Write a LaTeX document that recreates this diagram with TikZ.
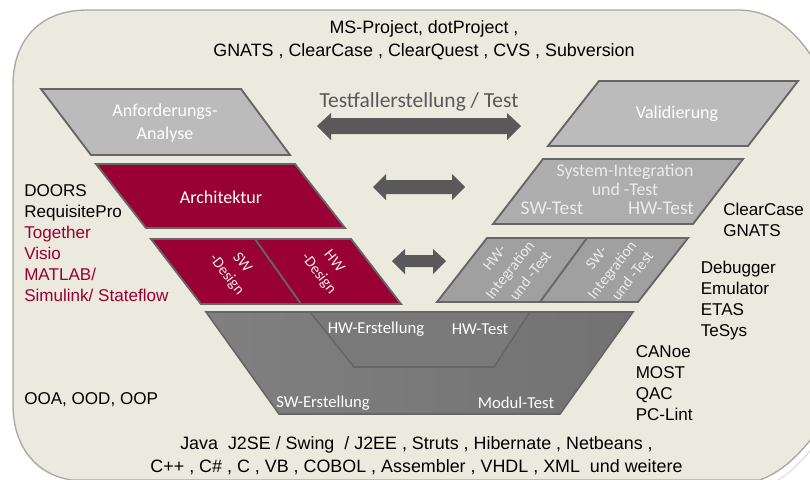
\documentclass[tikz,border=0pt]{standalone}
\usepackage{fontspec}
\setmainfont{Liberation Sans}
\newfontfamily\carl{Carlito}
\definecolor{panel}{HTML}{ECE9DF}
\definecolor{panelline}{HTML}{A8A8A4}
\definecolor{wine}{HTML}{990033}
\definecolor{lgray}{HTML}{BBBBBB}
\definecolor{mgray}{HTML}{ADADAD}
\definecolor{igray}{HTML}{A0A0A0}
\definecolor{bgray}{HTML}{808080}
\definecolor{bgrayr}{HTML}{727272}
\definecolor{edge}{HTML}{666666}
\definecolor{arrowgray}{HTML}{595959}
\tikzset{
  x=0.75pt,y=-0.75pt,
  para/.style={draw=edge,line width=1.4pt,line join=miter},
  blk/.style={anchor=north west,align=left,inner sep=0pt,font=\fontsize{12.8}{15.75}\selectfont,text=black},
  ctr/.style={align=center,inner sep=0pt,font=\fontsize{13.42}{17.3}\selectfont,text=black},
  wht/.style={align=center,inner sep=0pt,text=white,font=\carl\fontsize{13.5}{17}\selectfont},
  wbase/.style={align=center,inner sep=0pt,text=white,font=\carl\fontsize{12.5}{15}\selectfont},
  wsys/.style={align=center,inner sep=0pt,text=white!92!black,font=\carl\fontsize{13.4}{14.6}\selectfont},
  wtest/.style={align=center,inner sep=0pt,text=white!92!black,font=\carl\fontsize{14.6}{15}\selectfont},
  wrot/.style={align=center,inner sep=0pt,text=white!92!black,font=\carl\fontsize{11.6}{14.8}\selectfont},
  dbl/.style={fill=arrowgray,draw=none},
}
\begin{document}
\begin{tikzpicture}
\useasboundingbox (0,0) rectangle (810,479);
\fill[white] (0,0) rectangle (810,479);
% faint outer trace of the panel corner
\draw[black!10,line width=1.2pt] (775,482) .. controls (795,470) and (808,455) .. (830,425);
% panel
\draw[draw=panelline,line width=1pt,fill=panel]
  (830,90) .. controls (805,35) and (775,10) .. (738,10) -- (87,10)
  .. controls (40,10) and (13,40) .. (13,85) -- (13,405)
  .. controls (13,445) and (35,475) .. (72,480) -- (760,480)
  .. controls (785,470) and (800,455) .. (830,415) -- cycle;
% left side
\path[para,fill=lgray] (41,89) -- (241,89) -- (290,155) -- (91,155) -- cycle;
\path[para,fill=wine] (96,164) -- (295,164) -- (345,228) -- (146,228) -- cycle;
\path[para,fill=wine] (151,239) -- (351,239) -- (401,304) -- (201,304) -- cycle;
\draw[edge,line width=1.4pt] (255,239) -- (301,304);
% base
\path[draw=edge,line width=1.2pt,left color=bgray,right color=bgrayr] (206,312) -- (633,312) -- (560,414) -- (279,414) -- cycle;
\path[draw=edge,line width=1.2pt,fill=bgray!50!bgrayr] (310,312) -- (530,312) -- (494,367) -- (354,367) -- cycle;
% right side
\path[para,fill=lgray] (599,81) -- (798,81) -- (748,146) -- (548,146) -- cycle;
\path[para,fill=mgray] (543,159) -- (743,159) -- (693,224) -- (493,224) -- cycle;
\path[para,fill=igray] (487,238) -- (688,238) -- (638,302) -- (437,302) -- cycle;
\draw[edge,line width=1.4pt] (587,238) -- (540,302);
% arrows
\fill[dbl] (317,126) -- (331,113) -- (331,118) -- (507,118) -- (507,113) -- (521,126) -- (507,140) -- (507,134) -- (331,134) -- (331,140) -- cycle;
\fill[dbl] (373,187) -- (386,174) -- (386,180) -- (452,180) -- (452,174) -- (465,187) -- (452,200) -- (452,194) -- (386,194) -- (386,200) -- cycle;
\fill[dbl] (392,261) -- (405,249) -- (405,255) -- (433,255) -- (433,249) -- (446,261) -- (433,274) -- (433,267) -- (405,267) -- (405,274) -- cycle;
% labels in shapes
\node[wht] (a1) at (165,123) {Anforderungs-\\Analyse};
\node[wht] (a2) at (221,197) {Architektur};
\node[wrot,rotate=-52] (a3) at (234,269) {SW\\-Design};
\node[wrot,rotate=-52] (a4) at (326,268) {HW\\-Design};
\node[wht] (a5) at (677,114) {Validierung};
\node[wsys] (a6) at (625,180) {System-Integration\\und -Test};
\node[wtest] (a7) at (552,208) {SW-Test};
\node[wtest] (a8) at (661,208) {HW-Test};
\node[wrot,rotate=52] (a9) at (510,270) {HW-\\Integration\\\hspace*{12pt}und -Test};
\node[wrot,rotate=52] (a10) at (612,270) {SW-\\Integration\\\hspace*{12pt}und -Test};
\node[wbase] (b1) at (376,329) {HW-Erstellung};
\node[wbase] (b2) at (480,329) {HW-Test};
\node[wbase] (b3) at (323,403) {SW-Erstellung};
\node[wbase] (b4) at (516,403) {Modul-Test};
\node[inner sep=0pt,text=arrowgray,font=\carl\fontsize{16.1}{18}\selectfont] (t0) at (419,102) {Testfallerstellung / Test};
% tool labels
\node[ctr] (t1) at (424,40) {MS-Project, dotProject ,\\GNATS , ClearCase , ClearQuest , CVS , Subversion};
\node[blk] (t2) at (24,184) {DOORS\\RequisitePro\\\textcolor{wine}{Together}\\\textcolor{wine}{Visio}\\\textcolor{wine}{MATLAB/}\\\textcolor{wine}{Simulink/ Stateflow}};
\node[blk] (t3) at (24,392) {OOA, OOD, OOP};
\node[blk] (t4) at (723,203) {ClearCase\\GNATS};
\node[blk] (t5) at (700.5,261) {Debugger\\Emulator\\ETAS\\TeSys};
\node[blk] (t6) at (635.5,345) {CANoe\\MOST\\QAC\\PC-Lint};
\node[ctr] (t7) at (416.5,456) {Java\ \ J2SE / Swing\ \ / J2EE , Struts , Hibernate , Netbeans ,\\C++ , C\# , C , VB , COBOL , Assembler , VHDL , XML\ \ und weitere};
\end{tikzpicture}
\end{document}
